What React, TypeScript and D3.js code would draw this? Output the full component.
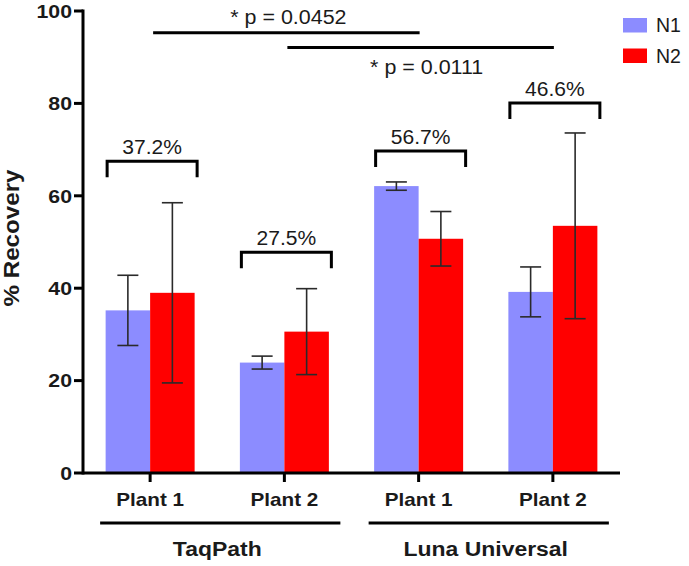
import React from "react";
import * as d3 from "d3";

const groups = ["TaqPath", "Luna Universal"];
const categories = ["TaqPath|Plant 1", "TaqPath|Plant 2", "Luna|Plant 1", "Luna|Plant 2"];
const categoryLabels = ["Plant 1", "Plant 2", "Plant 1", "Plant 2"];
const series = ["N1", "N2"];
const n1Values = [35.2, 23.9, 62.1, 39.2];
const n1Err = [7.6, 1.4, 0.9, 5.4];
const n2Values = [39.0, 30.6, 50.7, 53.5];
const n2Err = [19.5, 9.3, 5.9, 20.1];
const bracketLabels = ["37.2%", "27.5%", "56.7%", "46.6%"];
const bracketLevels = [67.5, 47.8, 69.7, 80.1];
const sigLabels = ["* p = 0.0452", "* p = 0.0111"];
const sigFrom = [0, 1];
const sigTo = [2, 3];
const sigLevels = [95.3, 92.1];
const yTicks = [0, 20, 40, 60, 80, 100];

const colors = ["#8c8cff", "#ff0000"];
const FONT = "Liberation Sans, Arial, Helvetica, sans-serif";

function T(props: {
  x: number; y: number; sx?: number; size: number; bold?: boolean;
  anchor?: "start" | "middle" | "end"; dy?: string; rotate?: number; children: React.ReactNode;
}) {
  const { x, y, sx = 1, size, bold, anchor = "middle", dy, rotate = 0, children } = props;
  return (
    <text
      transform={`translate(${x},${y}) rotate(${rotate}) scale(${sx},1)`}
      textAnchor={anchor}
      dy={dy}
      fontSize={size}
      fontWeight={bold ? "bold" : "normal"}
      fill="#1a1a1a"
    >
      {children}
    </text>
  );
}

export default function App() {
  const W = 689, H = 566;
  const x0 = 83, x1 = 620;
  const y = d3.scaleLinear().domain([0, 100]).range([473, 11]);
  const x = d3.scaleBand<string>().domain(categories).range([x0, x1]).padding(0);
  const barW = 44.5;
  const center = (i: number) => (x(categories[i]) as number) + x.bandwidth() / 2;
  const values = [n1Values, n2Values];
  const errs = [n1Err, n2Err];

  return (
    <svg width={W} height={H} style={{ position: "absolute", left: 0, top: 0, background: "#fff" }} fontFamily={FONT}>
      {/* bars */}
      {categories.map((c, i) =>
        series.map((s, j) => {
          const v = values[j][i];
          const bx = center(i) - barW + j * barW;
          return (
            <rect key={c + s} x={bx} y={y(v)} width={barW} height={y(0) - y(v)} fill={colors[j]} />
          );
        })
      )}
      {/* error bars */}
      {categories.map((c, i) =>
        series.map((s, j) => {
          const v = values[j][i];
          const e = errs[j][i];
          const cx = center(i) - barW / 2 + j * barW;
          return (
            <g key={"e" + c + s} stroke="#2a2a2a" strokeWidth={1.6}>
              <line x1={cx} x2={cx} y1={y(v + e)} y2={y(v - e)} />
              <line x1={cx - 10.5} x2={cx + 10.5} y1={y(v + e)} y2={y(v + e)} />
              <line x1={cx - 10.5} x2={cx + 10.5} y1={y(v - e)} y2={y(v - e)} />
            </g>
          );
        })
      )}
      {/* y axis */}
      <line x1={x0} x2={x0} y1={y(100) - 1.5} y2={y(0) + 1.5} stroke="#000" strokeWidth={3} />
      {yTicks.map((t) => (
        <g key={t}>
          <line x1={x0 - 9} x2={x0} y1={y(t)} y2={y(t)} stroke="#000" strokeWidth={3} />
          <T x={x0 - 11} y={y(t)} dy="0.36em" anchor="end" size={19} sx={1.12} bold>
            {t}
          </T>
        </g>
      ))}
      {/* x axis */}
      <line x1={x0} x2={x1} y1={y(0)} y2={y(0)} stroke="#000" strokeWidth={3} />
      {categories.map((c, i) => (
        <g key={"xt" + c}>
          <line x1={center(i)} x2={center(i)} y1={y(0)} y2={y(0) + 9} stroke="#000" strokeWidth={3} />
          <T x={center(i)} y={506} size={18} sx={1.15} bold>
            {categoryLabels[i]}
          </T>
        </g>
      ))}
      {/* group lines */}
      {groups.map((g, k) => {
        const a = center(k * 2), b = center(k * 2 + 1);
        const l = a - 50, r = b + 56;
        return (
          <g key={g}>
            <line x1={l} x2={r} y1={523} y2={523} stroke="#000" strokeWidth={3} />
            <T x={(a + b) / 2} y={556} size={20.5} sx={1.12} bold>
              {g}
            </T>
          </g>
        );
      })}
      {/* y title */}
      <T x={19} y={238} rotate={-90} size={22} sx={1.1} bold>
        % Recovery
      </T>
      {/* brackets */}
      {categories.map((c, i) => {
        const l = center(i) - 43, r = center(i) + 47;
        const top = y(bracketLevels[i]);
        return (
          <g key={"br" + c}>
            <path d={`M${l},${top + 16}V${top}H${r}V${top + 16}`} fill="none" stroke="#000" strokeWidth={3} />
            <T x={(l + r) / 2} y={top - 14} dy="0.36em" size={19.5} sx={1.08}>
              {bracketLabels[i]}
            </T>
          </g>
        );
      })}
      {/* significance */}
      {sigLabels.map((lab, k) => {
        const l = center(sigFrom[k]) + 3, r = center(sigTo[k]) + 1;
        const yy = y(sigLevels[k]);
        const ty = k === 0 ? yy - 16 : yy + 19;
        return (
          <g key={lab}>
            <line x1={l} x2={r} y1={yy} y2={yy} stroke="#000" strokeWidth={3} />
            <T x={(l + r) / 2 + (k === 0 ? 2 : 6)} y={ty} dy="0.36em" size={19.5} sx={1.1}>
              {lab}
            </T>
          </g>
        );
      })}
      {/* legend */}
      {series.map((s, j) => (
        <g key={"lg" + s}>
          <rect x={623} y={18 + j * 30.5} width={24} height={14.5} fill={colors[j]} />
          <T x={656} y={25 + j * 30.5} dy="0.36em" anchor="start" size={19.5}>
            {s}
          </T>
        </g>
      ))}
    </svg>
  );
}
